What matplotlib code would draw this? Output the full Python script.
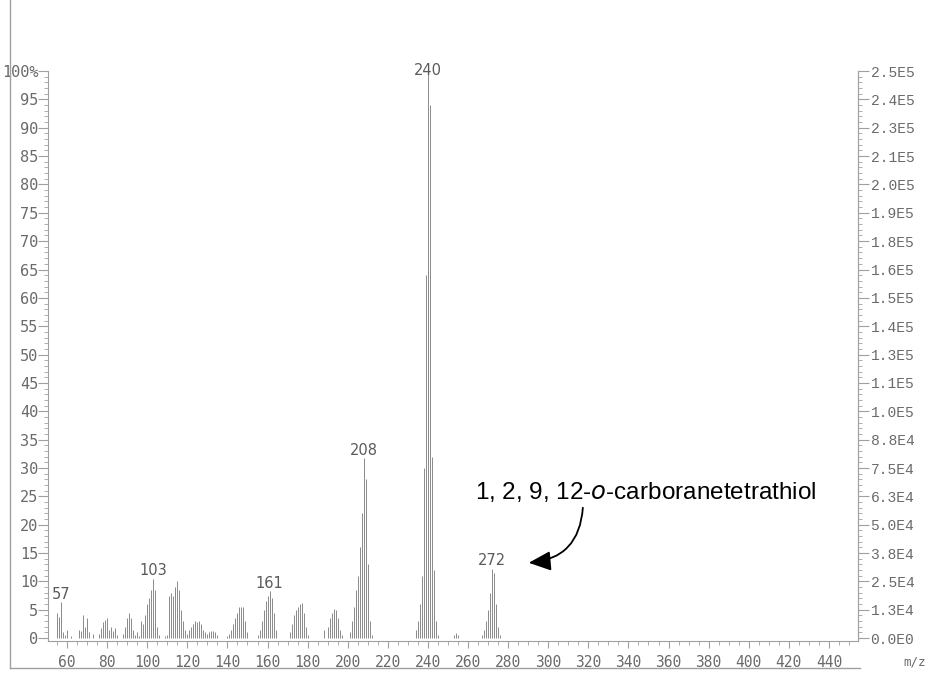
import matplotlib.pyplot as plt
from matplotlib.ticker import MultipleLocator
from matplotlib.patches import FancyArrowPatch
from matplotlib.lines import Line2D

# m/z values and relative intensity (%)
mz = [55, 56, 57, 58, 59, 60, 62,
      66, 67, 68, 69, 70, 71, 73,
      76, 77, 78, 79, 80, 81, 82, 83, 84, 85,
      88, 89, 90, 91, 92, 93, 94, 95,
      96, 97, 98, 99, 100, 101, 102, 103, 104, 105, 106,
      109, 110, 111, 112, 113, 114, 115, 116, 117, 118, 119, 120,
      121, 122, 123, 124, 125, 126, 127, 128, 129, 130, 131, 132, 133, 134, 135,
      140, 141, 142, 143, 144, 145, 146, 147, 148, 149, 150,
      155, 156, 157, 158, 159, 160, 161, 162, 163, 164,
      171, 172, 173, 174, 175, 176, 177, 178, 179, 180,
      188, 190, 191, 192, 193, 194, 195, 196, 197,
      201, 202, 203, 204, 205, 206, 207, 208, 209, 210, 211, 212,
      234, 235, 236, 237, 238, 239, 240, 241, 242, 243, 244, 245,
      253, 254, 255,
      267, 268, 269, 270, 271, 272, 273, 274, 275, 276]
intensity = [4.5, 3.8, 6.3, 1.0, 0.5, 1.5, 0.4,
             1.5, 1.2, 4.0, 2.0, 3.5, 1.0, 0.8,
             0.8, 1.8, 2.8, 3.2, 3.5, 1.5, 2.0, 1.2, 1.8, 0.6,
             0.8, 2.0, 3.5, 4.5, 3.5, 1.5, 0.5, 1.0,
             0.3, 3.0, 2.5, 4.0, 6.0, 7.0, 8.5, 10.5, 8.5, 2.0, 0.5,
             0.3, 0.5, 7.5, 8.0, 7.5, 9.0, 10.0, 8.5, 5.0, 3.0, 1.5, 0.8,
             1.5, 2.0, 2.5, 3.0, 2.8, 3.0, 2.5, 1.5, 1.0, 0.8, 1.0, 1.2, 1.2, 1.0, 0.5,
             0.3, 0.8, 1.5, 2.5, 3.5, 4.5, 5.5, 5.5, 5.5, 3.0, 1.0,
             0.5, 1.5, 3.0, 5.0, 6.5, 7.5, 8.3, 7.0, 4.5, 1.5,
             1.0, 2.5, 4.0, 5.0, 5.5, 6.0, 6.2, 4.5, 2.0, 0.5,
             1.5, 2.0, 3.5, 4.5, 5.2, 5.0, 3.5, 1.5, 0.5,
             1.0, 3.0, 5.5, 8.5, 11.0, 16.0, 22.0, 31.7, 28.0, 13.0, 3.0, 0.5,
             1.5, 3.0, 6.0, 11.0, 30.0, 64.0, 100.0, 94.0, 32.0, 12.0, 3.0, 0.5,
             0.6, 0.9, 0.6,
             0.5, 1.5, 3.0, 5.0, 8.0, 12.2, 11.5, 6.0, 2.0, 0.5]

peak_labels = [57, 103, 161, 208, 240, 272]

left_ticks = list(range(0, 101, 5))
left_labels = [str(v) for v in left_ticks[:-1]] + ["100%"]
right_labels = ["0.0E0", "1.3E4", "2.5E4", "3.8E4", "5.0E4", "6.3E4", "7.5E4",
                "8.8E4", "1.0E5", "1.1E5", "1.3E5", "1.4E5", "1.5E5", "1.6E5",
                "1.8E5", "1.9E5", "2.0E5", "2.1E5", "2.3E5", "2.4E5", "2.5E5"]

compound = "1, 2, 9, 12-$\\mathit{o}$-carboranetetrathiol"

grey = "#6a6a6a"
axis_col = "#a0a0a0"
bar_col = "#8a8a8a"

fig = plt.figure(figsize=(9.33, 6.73), dpi=100)
ax = fig.add_axes([48 / 933, 1 - 641 / 673, (858 - 48) / 933, (641 - 71) / 673])

ax.vlines(mz, 0, intensity, color=bar_col, linewidth=0.7)

ax.set_xlim(50.5, 454.5)
ax.set_ylim(-0.5, 100)

ax.spines["top"].set_visible(False)
for s in ["left", "right", "bottom"]:
    ax.spines[s].set_color(axis_col)

ax.set_xticks(range(60, 441, 20))
ax.set_xticklabels([str(v) for v in range(60, 441, 20)],
                   fontfamily="DejaVu Sans Mono", fontsize=10.5, color=grey)
ax.xaxis.set_minor_locator(MultipleLocator(5))
ax.tick_params(axis="x", which="major", length=5, color=axis_col, pad=5)
ax.tick_params(axis="x", which="minor", length=3, color=axis_col)

ax.set_yticks(left_ticks)
ax.set_yticklabels(left_labels, fontfamily="DejaVu Sans Mono", fontsize=11, color=grey)
ax.yaxis.set_minor_locator(MultipleLocator(1))
ax.tick_params(axis="y", which="major", length=7, color=axis_col, pad=0)
ax.tick_params(axis="y", which="minor", length=3, color=axis_col)

ax2 = ax.twinx()
ax2.set_ylim(ax.get_ylim())
ax2.set_yticks(left_ticks)
ax2.set_yticklabels(right_labels, fontfamily="Liberation Mono", fontsize=10.5, color=grey)
ax2.yaxis.set_minor_locator(MultipleLocator(1))
ax2.tick_params(axis="y", which="major", length=8, color=axis_col, pad=1)
ax2.tick_params(axis="y", which="minor", length=3, color=axis_col)
for s in ["top", "left", "bottom"]:
    ax2.spines[s].set_visible(False)
ax2.spines["right"].set_color(axis_col)

height = dict(zip(mz, intensity))
for p in peak_labels:
    ax.text(p, min(height[p] + 0.1, 98.8), str(p), ha="center", va="bottom",
            fontsize=10.5, color="#5a5a5a", clip_on=False)

fig.text(915 / 933, 1 - 662 / 673, "m/z", fontfamily="DejaVu Sans Mono",
         fontsize=9, color=grey, ha="center", va="center")

# compound annotation with curved arrow
fig.text(646 / 933, 1 - 492 / 673, compound, fontfamily="Liberation Sans",
         fontsize=17.5, color="black", ha="center", va="center")
arrow = FancyArrowPatch((583 / 933, 1 - 505 / 673), (526 / 933, 1 - 563 / 673),
                        transform=fig.transFigure, connectionstyle="arc3,rad=-0.45",
                        arrowstyle="-|>,head_length=9,head_width=4",
                        color="black", linewidth=1.3, mutation_scale=1.5)
fig.patches.append(arrow)

# scan border lines
fig.add_artist(Line2D([10 / 933, 10 / 933], [1 - 668 / 673, 1.0],
                      transform=fig.transFigure, color=axis_col, linewidth=1))
fig.add_artist(Line2D([10 / 933, 860 / 933], [1 - 668 / 673, 1 - 668 / 673],
                      transform=fig.transFigure, color=axis_col, linewidth=1))

fig.savefig("out.png", dpi=100, facecolor="white")
